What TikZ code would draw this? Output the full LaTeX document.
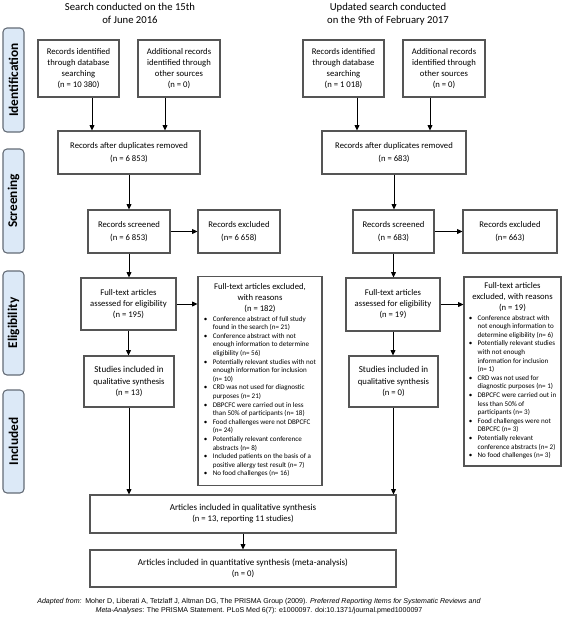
\documentclass[tikz,border=0pt]{standalone}
\usepackage{fontspec}
\setmainfont{Carlito}
\newfontfamily\arialf{Liberation Sans}
\usetikzlibrary{arrows.meta,calc}
\definecolor{boxgray}{RGB}{85,85,85}
\definecolor{barblue}{RGB}{220,233,247}
\definecolor{bargray}{RGB}{100,108,118}
\tikzset{
  sz/.style 2 args={minimum width=#1*0.75pt, minimum height=#2*0.75pt},
  box/.style={draw=boxgray, line width=0.8pt, fill=white, align=center, inner sep=1pt,
    font=\fontsize{6.5}{8.3}\selectfont},
  bar/.style={draw=bargray, fill=barblue, rounded corners=3pt, line width=0.8pt,
    rotate=90, inner sep=0pt, font=\bfseries\fontsize{10}{12}\selectfont},
  arr/.style={-{Triangle[length=4pt,width=3.6pt]}, line width=0.7pt, black},
  hdr/.style={align=center, font=\fontsize{8}{9.8}\selectfont},
}
\newcommand{\bulfont}{\fontsize{5.3}{6.45}\selectfont}
\begin{document}
\begin{tikzpicture}[x=0.75pt, y=-0.75pt]
\useasboundingbox (0,0) rectangle (562,625);

% headers
\node[hdr] (h1) at (130,13) {Search conducted on the 15th\\ of June 2016};
\node[hdr] (h2) at (388,14) {Updated search conducted\\ on the 9th of February 2017};

% side bars
\node[bar, sz={104}{21}] (b1) at (13.5,80) {Identification};
\node[bar, sz={104}{21}] (b2) at (13.5,201) {Screening};
\node[bar, sz={104}{21}] (b3) at (13.5,323) {Eligibility};
\node[bar, sz={103}{21}] (b4) at (13.5,441.5) {Included};

% left column
\node[box, sz={81}{57}] (db1) at (78.5,68.5) {Records identified\\ through database\\ searching\\ (n = 10 380)};
\node[box, sz={82}{57}] (add1) at (179,68.5) {Additional records\\ identified through\\ other sources\\ (n = 0)};
\node[box, sz={142}{43}] (dup1) at (129,152.5) {Records after duplicates removed\\[1.5pt] (n = 6 853)};
\node[box, sz={82}{43}] (scr1) at (129,231.5) {Records screened\\[1.5pt] (n = 6 853)};
\node[box, sz={82}{43}] (exc1) at (239,231.5) {Records excluded\\[1.5pt] (n= 6 658)};
\node[box, sz={95}{52}] (ft1) at (128.5,304) {Full-text articles\\ assessed for eligibility\\ (n = 195)};
\node[box, sz={124}{209}] (fte1) at (260,381) {Full-text articles excluded,\\ with reasons\\ (n = 182)\\[0.5pt]
\bulfont
\begin{tabular}{@{}l@{\hspace{4pt}}l@{}}
\textbullet & Conference abstract of full study\\
 & found in the search (n= 21)\\
\textbullet & Conference abstract with not\\
 & enough information to determine\\
 & eligibility (n= 56)\\
\textbullet & Potentially relevant studies with not\\
 & enough information for inclusion\\
 & (n= 10)\\
\textbullet & CRD was not used for diagnostic\\
 & purposes (n= 21)\\
\textbullet & DBPCFC were carried out in less\\
 & than 50\% of participants (n= 18)\\
\textbullet & Food challenges were not DBPCFC\\
 & (n= 24)\\
\textbullet & Potentially relevant conference\\
 & abstracts (n= 8)\\
\textbullet & Included patients on the basis of a\\
 & positive allergy test result (n= 7)\\
\textbullet & No food challenges (n= 16)
\end{tabular}};
\node[box, sz={90}{51}] (inc1) at (129,381.5) {\fontsize{6.8}{8.6}\selectfont Studies included in\\ qualitative synthesis\\ (n = 13)};
\node[box, sz={306}{38}] (qual) at (243,514) {\fontsize{6.8}{9}\selectfont Articles included in qualitative synthesis\\ (n = 13, reporting 11 studies)};
\node[box, sz={306}{37}] (meta) at (243,568.5) {\fontsize{6.8}{9}\selectfont Articles included in quantitative synthesis (meta-analysis)\\ (n = 0)};

% right column
\node[box, sz={81}{57}] (db2) at (343.5,68.5) {Records identified\\ through database\\ searching\\ (n = 1 018)};
\node[box, sz={82}{57}] (add2) at (444,68.5) {Additional records\\ identified through\\ other sources\\ (n = 0)};
\node[box, sz={144}{43}] (dup2) at (394,152.5) {Records after duplicates removed\\[1.5pt] (n = 683)};
\node[box, sz={81}{43}] (scr2) at (393.5,231.5) {Records screened\\[1.5pt] (n = 683)};
\node[box, sz={94}{43}] (exc2) at (510,231.5) {Records excluded\\[1.5pt] (n= 663)};
\node[box, sz={94}{53}] (ft2) at (393,304.5) {Full-text articles\\ assessed for eligibility\\ (n = 19)};
\node[box, sz={97}{189}] (fte2) at (512.5,371.5) {Full-text articles\\ excluded, with reasons\\ (n = 19)\\[0.5pt]
\bulfont
\begin{tabular}{@{}l@{\hspace{4pt}}l@{}}
\textbullet & Conference abstract with\\
 & not enough information to\\
 & determine eligibility (n= 6)\\
\textbullet & Potentially relevant studies\\
 & with not enough\\
 & information for inclusion\\
 & (n= 1)\\
\textbullet & CRD was not used for\\
 & diagnostic purposes (n= 1)\\
\textbullet & DBPCFC were carried out in\\
 & less than 50\% of\\
 & participants (n= 3)\\
\textbullet & Food challenges were not\\
 & DBPCFC (n= 3)\\
\textbullet & Potentially relevant\\
 & conference abstracts (n= 2)\\
\textbullet & No food challenges (n= 3)
\end{tabular}};
\node[box, sz={89}{51}] (inc2) at (393.5,381.5) {\fontsize{6.8}{8.6}\selectfont Studies included in\\ qualitative synthesis\\ (n = 0)};

% footer
\node[align=center, font=\arialf\fontsize{5.3}{6.75}\selectfont] (foot) at (259,606)
{\textit{Adapted from:}\enspace Moher D, Liberati A, Tetzlaff J, Altman DG, The PRISMA Group (2009). \textit{Preferred Reporting Items for Systematic Reviews and}\\
\textit{Meta-Analyses}: The PRISMA Statement. PLoS Med 6(7): e1000097. doi:10.1371/journal.pmed1000097};

% connectors left
\coordinate (a1) at ($(db1.south)+(13.5,0)$);
\coordinate (a2) at ($(add1.south)+(-14,0)$);
\draw[arr] (a1) -- (a1 |- dup1.north);
\draw[arr] (a2) -- (a2 |- dup1.north);
\draw[arr] (dup1.south) -- (scr1.north);
\draw[arr] (scr1.east) -- (scr1.east -| exc1.west);
\draw[arr] (scr1.south) -- (scr1.south |- ft1.north);
\draw[arr] (ft1.east) -- (ft1.east -| fte1.west);
\draw[arr] (ft1.south) -- (ft1.south |- inc1.north);
\draw[arr] (inc1.south) -- (inc1.south |- qual.north);
\draw[arr] (qual.south) -- (meta.north);

% connectors right
\coordinate (c1) at ($(db2.south)+(13.5,0)$);
\coordinate (c2) at ($(add2.south)+(-14,0)$);
\draw[arr] (c1) -- (c1 |- dup2.north);
\draw[arr] (c2) -- (c2 |- dup2.north);
\draw[arr] (dup2.south) -- (dup2.south |- scr2.north);
\draw[arr] (scr2.east) -- (scr2.east -| exc2.west);
\draw[arr] (scr2.south) -- (scr2.south |- ft2.north);
\draw[arr] (ft2.east) -- (ft2.east -| fte2.west);
\draw[arr] (ft2.south) -- (ft2.south |- inc2.north);
\draw[arr] (inc2.south) -- (inc2.south |- qual.north);
\end{tikzpicture}
\end{document}
